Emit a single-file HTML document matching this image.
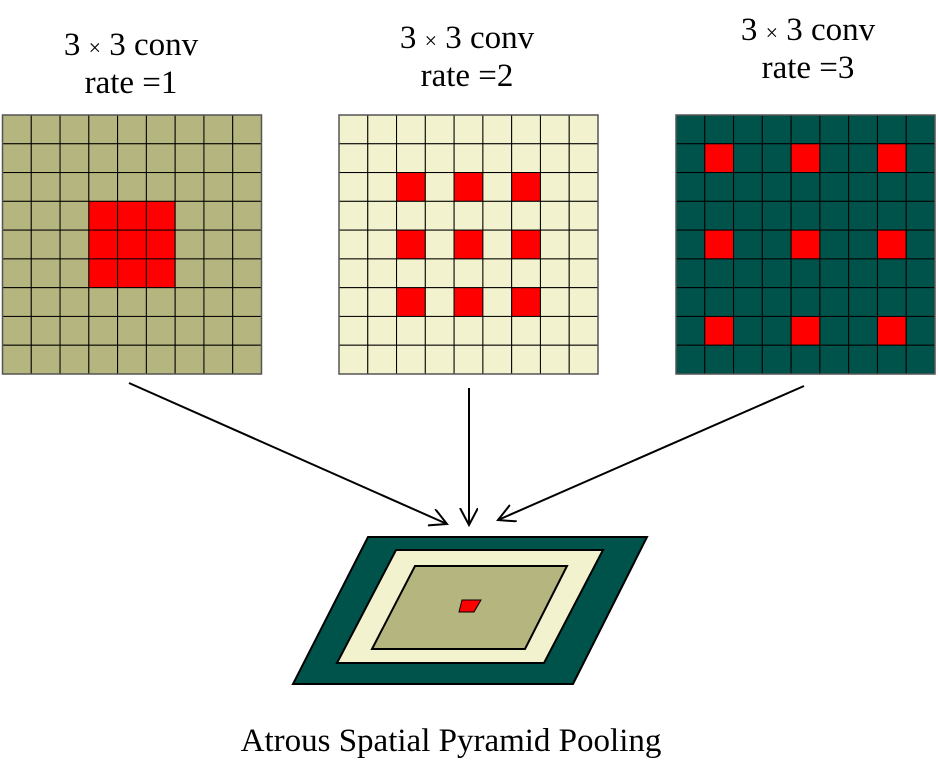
<!DOCTYPE html>
<html><head><meta charset="utf-8"><style>
body{margin:0;background:#fff;width:938px;height:775px;overflow:hidden}
svg text{font-family:"Liberation Serif",serif;fill:#000}
</style></head><body>
<svg width="938" height="775" viewBox="0 0 938 775">
<defs><marker id="ah" markerWidth="20" markerHeight="20" refX="17" refY="9" orient="auto" markerUnits="userSpaceOnUse"><path d="M0,0 L17,9 L0,18" fill="none" stroke="#000" stroke-width="2"/></marker></defs>
<g id="grids"></g>
<text x="131" y="55" font-size="33" text-anchor="middle">3 <tspan font-size="22">×</tspan> 3 conv</text>
<text x="131" y="93" font-size="33" text-anchor="middle">rate =1</text>
<text x="467" y="48" font-size="33" text-anchor="middle">3 <tspan font-size="22">×</tspan> 3 conv</text>
<text x="467" y="86" font-size="33" text-anchor="middle">rate =2</text>
<text x="808" y="40" font-size="33" text-anchor="middle">3 <tspan font-size="22">×</tspan> 3 conv</text>
<text x="808" y="78" font-size="33" text-anchor="middle">rate =3</text>
<line x1="129" y1="383" x2="447" y2="524" stroke="#000" stroke-width="2" marker-end="url(#ah)"/>
<line x1="469" y1="388" x2="469" y2="525" stroke="#000" stroke-width="2" marker-end="url(#ah)"/>
<line x1="804" y1="386" x2="498" y2="520" stroke="#000" stroke-width="2" marker-end="url(#ah)"/>
<polygon points="368,537 647,537 573,684 293,684" fill="#00534a" stroke="#000" stroke-width="2"/>
<polygon points="396,550 603,550 544,663 337,663" fill="#f2f2cf" stroke="#000" stroke-width="2"/>
<polygon points="415,566 567,566 525,649 372,649" fill="#b5b57f" stroke="#000" stroke-width="2"/>
<polygon points="462,600 481,600 474,612 459,612" fill="#ff0000" stroke="#000" stroke-width="1"/>
<text x="451" y="751" font-size="33" text-anchor="middle">Atrous Spatial Pyramid Pooling</text>
</svg>
<script>
const gridX=[2.5,339,676];
const gridColors=['#b5b57f','#f2f2cf','#00534a'];
const redIdx=[[3,4,5],[2,4,6],[1,4,7]];
const g=document.getElementById('grids');
const NS='http://www.w3.org/2000/svg';
const cs=259/9;
for(let k=0;k<3;k++){
  const grp=document.createElementNS(NS,'g');
  
  
  for(let r=0;r<9;r++)for(let c=0;c<9;c++){
    const red=redIdx[k].includes(r)&&redIdx[k].includes(c);
    const el=document.createElementNS(NS,'rect');
    el.setAttribute('x',gridX[k]+c*cs);el.setAttribute('y',115+r*cs);
    el.setAttribute('width',cs);el.setAttribute('height',cs);
    el.setAttribute('fill',red?'#ff0000':gridColors[k]);
    el.setAttribute('stroke','#000');el.setAttribute('stroke-width','1');
    
    
    grp.appendChild(el);
  }
  const b=document.createElementNS(NS,'rect');
  b.setAttribute('x',gridX[k]);b.setAttribute('y',115);b.setAttribute('width',259);b.setAttribute('height',259);
  b.setAttribute('fill','none');b.setAttribute('stroke','#555');b.setAttribute('stroke-width','1.5');
  
  
  grp.appendChild(b);
  g.appendChild(grp);
}
</script>
</body></html>
